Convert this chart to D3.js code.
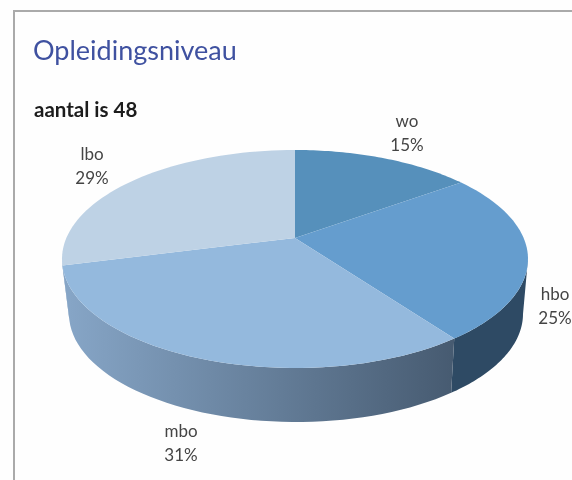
<!DOCTYPE html>
<html lang="nl">
<head>
  <meta charset="UTF-8">
  <title>Opleidingsniveau</title>
  <script src="https://d3js.org/d3.v7.min.js"></script>
  <style>
    html, body { margin: 0; padding: 0; background: #fff; }
    svg { display: block; filter: blur(0.4px); }
    text { font-family: Lato, 'Open Sans', sans-serif; }
  </style>
</head>
<body>
<svg width="572" height="480"></svg>
<script>
const categories = ["wo", "hbo", "mbo", "lbo"];
const percentages = [15, 25, 31, 29];
const title = "Opleidingsniveau";
const subtitle = "aantal is 48";

const topColors = ["#5690bb", "#659dce", "#94b9dd", "#bed2e5"];
const sideColors = [["#3f6f96", "#3f6f96"], ["#36536f", "#2e4a64"], ["#86a5c6", "#465a70"], ["#8aa8c8", "#8aa8c8"]];
const labelPos = [[407, 127], [555, 300], [181, 437], [92, 160]];

const svg = d3.select("svg");

// perspective: the pie centre sits above the middle of the ellipse
const persp = 0.193;
const x = d3.scaleLinear().domain([-1, 1]).range([62, 528]);
const y = d3.scaleLinear().domain([-1, 1]).range([368, 150]);
const xBottom = d3.scaleLinear().domain([-1, 1]).range([69, 523]);
const yBottom = d3.scaleLinear().domain([-1, 1]).range([422, 206]);

const pie = d3.pie().sort(null).value(d => d).startAngle(0).endAngle(2 * Math.PI);
const arcs = pie(percentages);

// circle angle -> point on the unit ellipse
function project(t) {
  const w = Math.cos(t);
  const den = 1 + persp * w;
  return [Math.sqrt(1 - persp * persp) * Math.sin(t) / den, (w + persp) / den];
}
function ellipseAngle(t) {
  const p = project(t);
  let a = Math.atan2(p[0], p[1]);
  if (a < 0) a += 2 * Math.PI;
  return a;
}

const line = d3.line();
const steps = d3.range(0, 1.0001, 0.02);

// defs for side gradients
const defs = svg.append("defs");
arcs.forEach((d, i) => {
  const g = defs.append("linearGradient")
    .attr("id", "side" + i)
    .attr("gradientUnits", "userSpaceOnUse")
    .attr("x1", 69).attr("x2", 457).attr("y1", 0).attr("y2", 0);
  g.append("stop").attr("offset", "0").attr("stop-color", sideColors[i][0]);
  g.append("stop").attr("offset", "1").attr("stop-color", sideColors[i][1]);
});

svg.append("rect")
  .attr("width", 572).attr("height", 480)
  .attr("fill", "#fefefe");

// chart border, open at right and bottom
svg.append("path")
  .attr("d", line([[14, 480], [14, 11], [572, 11]]))
  .attr("fill", "none")
  .attr("stroke", "#aaaaaa")
  .attr("stroke-width", 2);

svg.append("text")
  .attr("x", 33).attr("y", 60)
  .attr("font-size", 27)
  .attr("fill", "#3f51a0")
  .text(title);

svg.append("text")
  .attr("x", 34).attr("y", 117)
  .attr("font-size", 20.5)
  .attr("font-weight", "bold")
  .attr("fill", "#1c1c1c")
  .text(subtitle);

// front wall of the pie: only the part of each slice that faces us
svg.append("g")
  .selectAll("path")
  .data(arcs)
  .join("path")
  .attr("fill", (d, i) => `url(#side${i})`)
  .attr("d", d => {
    const a0 = Math.max(ellipseAngle(d.startAngle), Math.PI / 2);
    const a1 = Math.min(d.endAngle >= 2 * Math.PI ? 2 * Math.PI : ellipseAngle(d.endAngle), 3 * Math.PI / 2);
    if (a1 <= a0) return null;
    const angles = steps.map(s => a0 + (a1 - a0) * s);
    const upper = angles.map(a => [x(Math.sin(a)), y(Math.cos(a))]);
    const lower = angles.map(a => [xBottom(Math.sin(a)), yBottom(Math.cos(a))]).reverse();
    return line(upper.concat(lower)) + "Z";
  });

// top faces
svg.append("g")
  .selectAll("path")
  .data(arcs)
  .join("path")
  .attr("fill", (d, i) => topColors[i])
  .attr("d", d => {
    const a0 = ellipseAngle(d.startAngle);
    let a1 = ellipseAngle(d.endAngle);
    if (a1 <= a0) a1 += 2 * Math.PI;
    const rim = steps.map(s => {
      const a = a0 + (a1 - a0) * s;
      return [x(Math.sin(a)), y(Math.cos(a))];
    });
    return line([[x(0), y(persp)]].concat(rim)) + "Z";
  });

// labels: name and percentage on two lines
const labels = svg.append("g")
  .selectAll("g")
  .data(arcs)
  .join("g")
  .attr("transform", (d, i) => `translate(${labelPos[i][0]},${labelPos[i][1]})`)
  .attr("text-anchor", "middle")
  .attr("font-size", 17)
  .attr("fill", "#444444");

labels.append("text").text((d, i) => categories[i]);
labels.append("text").attr("y", 24).text(d => d.value + "%");
</script>
</body>
</html>
